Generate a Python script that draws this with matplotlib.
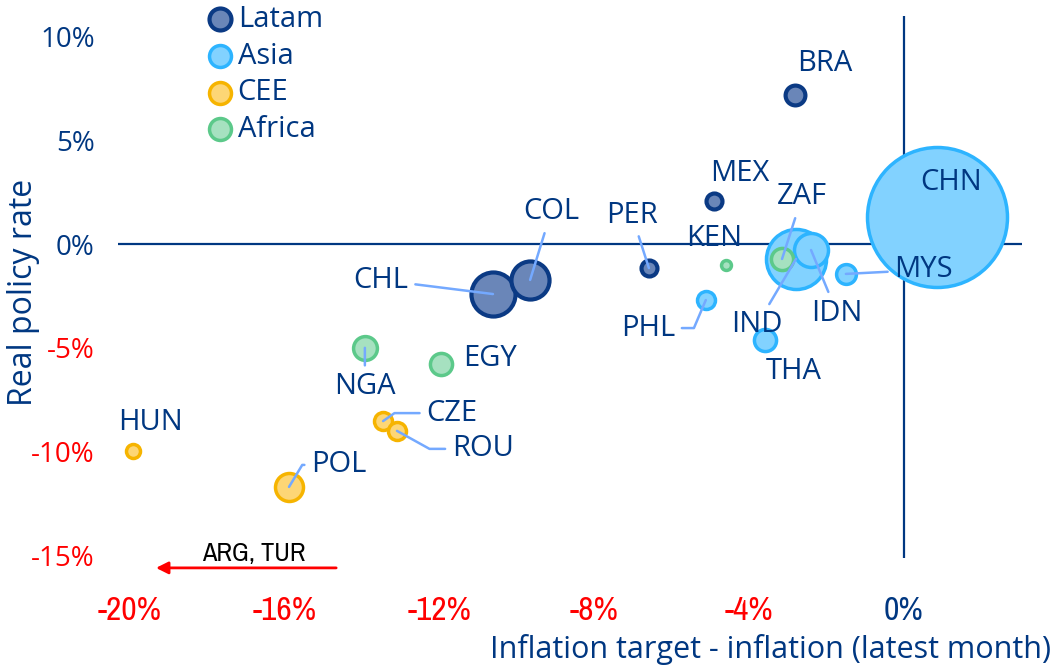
"""
Real policy rates vs inflation gap, EM bubble chart
"""

import matplotlib.pyplot as plt

# Data
countries = ['BRA', 'MEX', 'PER', 'COL', 'CHL',
             'CHN', 'IND', 'IDN', 'MYS', 'THA', 'PHL',
             'ZAF', 'KEN', 'NGA', 'EGY',
             'HUN', 'CZE', 'ROU', 'POL']
regions = ['Latam'] * 5 + ['Asia'] * 6 + ['Africa'] * 4 + ['CEE'] * 4
infl_gap = [-2.82, -4.91, -6.59, -9.66, -10.62,
            0.85, -2.79, -2.40, -1.50, -3.59, -5.12,
            -3.15, -4.60, -13.93, -11.96,
            -19.92, -13.46, -13.10, -15.89]
real_rate = [7.18, 2.07, -1.16, -1.73, -2.41,
             1.30, -0.72, -0.29, -1.44, -4.60, -2.70,
             -0.72, -1.01, -5.00, -5.78,
             -9.97, -8.53, -9.00, -11.70]
weight = [2.0, 1.3, 1.3, 7.4, 9.9,
          100, 18.4, 5.9, 2.0, 2.5, 1.65,
          2.5, 0.5, 2.9, 2.5,
          1.0, 1.65, 1.65, 4.0]
legend_order = ['Latam', 'Asia', 'CEE', 'Africa']
x_ticks = [-20, -16, -12, -8, -4, 0]
y_ticks = [10, 5, 0, -5, -10, -15]

# Styles
NAVY = '#003781'
RED = '#ff0000'
LEADER = '#74a9ff'
MAIN_FONT = ['Open Sans', 'DejaVu Sans']
NARROW_FONT = ['Archivo Narrow', 'DejaVu Sans']
styles = {
    'Latam': dict(edge='#0b3a84', face='#6a86b8', lw=3.0),
    'Asia': dict(edge='#2db4ff', face='#82d2ff', lw=2.5),
    'CEE': dict(edge='#f6b400', face='#fdd675', lw=2.5),
    'Africa': dict(edge='#5cc98a', face='#a6e1c0', lw=2.5),
}
# label offsets in pixels (dx, dy), leader connection style or None, start point on label
labels = {
    'BRA': ((30, 31), None, None),
    'MEX': ((26, 28), None, None),
    'PER': ((-17, 53), 'arc3', (0.5, 0.5)),
    'COL': ((21, 68), 'arc3', (0.5, 0.5)),
    'CHL': ((-112, 14), 'arc3', (0.5, 0.5)),
    'CHN': ((14, 35), None, None),
    'IND': ((-39, -66), 'arc3', (0.5, 0.5)),
    'IDN': ((26, -63), 'arc3', (0.5, 0.5)),
    'MYS': ((78, 4), 'arc3', (0.5, 0.5)),
    'THA': ((29, -32), None, None),
    'PHL': ((-58, -28), 'angle,angleA=0,angleB=67,rad=0', (1, 0.5)),
    'ZAF': ((20, 62), 'arc3', (0.5, 0.5)),
    'KEN': ((-12, 26), None, None),
    'NGA': ((0, -39), 'arc3', (0.5, 0.5)),
    'EGY': ((49, 6), None, None),
    'HUN': ((17, 29), None, None),
    'CZE': ((69, 8), 'angle,angleA=0,angleB=35,rad=0', (0, 0.5)),
    'ROU': ((86, -18), 'angle,angleA=0,angleB=-29,rad=0', (0, 0.5)),
    'POL': ((50, 22), 'angle,angleA=0,angleB=59,rad=0', (0, 0.5)),
}

plt.rcParams['font.family'] = MAIN_FONT
fig = plt.figure(figsize=(10.54, 6.68), dpi=100)
ax = fig.add_axes([0.1123, 0.1654, 0.8573, 0.8112])
ax.set_xlim(-20.3, 3.05)
ax.set_ylim(-15.1, 11.0)

ax.axhline(0, color=NAVY, lw=1.6, zorder=1)
ax.axvline(0, color=NAVY, lw=1.6, zorder=1)

order = sorted(range(len(countries)), key=lambda i: -weight[i])
for i in order:
    st = styles[regions[i]]
    ax.scatter(infl_gap[i], real_rate[i], s=101.6 * weight[i],
               facecolor=st['face'], edgecolor=st['edge'],
               linewidth=st['lw'], zorder=3)

for i, c in enumerate(countries):
    (dx, dy), conn, rel = labels[c]
    arrow = None
    if conn:
        arrow = dict(arrowstyle='-', color=LEADER, lw=1.8, shrinkA=3, shrinkB=0,
                     connectionstyle=conn, relpos=rel)
    ax.annotate(c, (infl_gap[i], real_rate[i]), xytext=(dx, dy),
                textcoords='offset pixels', ha='center', va='center',
                fontsize=21, color=NAVY, zorder=5, arrowprops=arrow)

# legend
for r in legend_order:
    st = styles[r]
    ax.scatter([], [], s=250, facecolor=st['face'], edgecolor=st['edge'],
               linewidth=st['lw'], label=r)
leg = ax.legend(loc='upper left', bbox_to_anchor=(0.083, 1.041), frameon=False,
                handlelength=1.0, handletextpad=0.12, labelspacing=0.26,
                fontsize=21, borderaxespad=0)
for t in leg.get_texts():
    t.set_color(NAVY)

# ARG, TUR off-scale arrow
ax.annotate('', xy=(-19.4, -15.6), xytext=(-14.6, -15.6),
            arrowprops=dict(arrowstyle='-|>', color=RED, lw=2, mutation_scale=18),
            annotation_clip=False)
ax.text(-16.8, -14.9, 'ARG, TUR', ha='center', va='center', fontsize=19,
        color='black', family=NARROW_FONT)

# axes
for s in ax.spines.values():
    s.set_visible(False)
ax.set_xticks(x_ticks)
ax.set_yticks(y_ticks)
ax.set_xticklabels([f'{v}%' for v in x_ticks], fontsize=24, family=NARROW_FONT)
ax.set_yticklabels([f'{v}%' for v in y_ticks], fontsize=20)
ax.tick_params(axis='x', length=0, pad=28)
ax.tick_params(axis='y', length=0, pad=17)
for v, t in zip(x_ticks, ax.get_xticklabels()):
    t.set_color(RED if v < 0 else NAVY)
for v, t in zip(y_ticks, ax.get_yticklabels()):
    t.set_color(RED if v < 0 else NAVY)

ax.set_ylabel('Real policy rate', fontsize=23, color=NAVY)
ax.yaxis.set_label_coords(-0.087, 0.49)
fig.text(0.997, 0.028, 'Inflation target - inflation (latest month)',
         ha='right', va='center', fontsize=22, color=NAVY)

fig.savefig('out.png', dpi=100)
